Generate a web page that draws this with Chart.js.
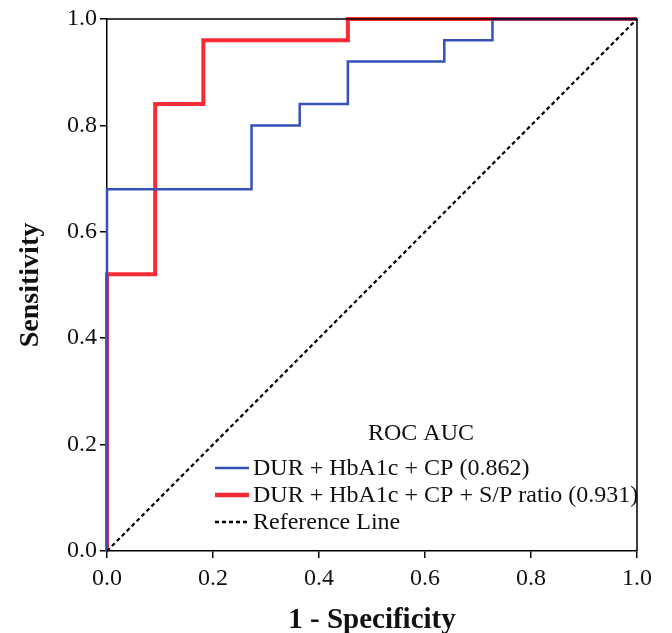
<!DOCTYPE html>
<html>
<head>
<meta charset="utf-8">
<script src="https://cdn.jsdelivr.net/npm/chart.js@4/dist/chart.umd.min.js"></script>
<style>
html,body{margin:0;padding:0;background:#fff;}
#wrap{width:672px;height:633px;}
</style>
</head>
<body>
<div id="wrap"><canvas id="c" width="672" height="633"></canvas></div>
<script>
// ROC curve step points (1 - Specificity, Sensitivity)
const blueX = [0, 0, 0.2727, 0.2727, 0.3636, 0.3636, 0.4545, 0.4545, 0.6364, 0.6364, 0.7273, 0.7273, 1];
const blueY = [0, 0.68, 0.68, 0.80, 0.80, 0.84, 0.84, 0.92, 0.92, 0.96, 0.96, 1.0, 1.0];
const redX = [0, 0, 0.0909, 0.0909, 0.1818, 0.1818, 0.4545, 0.4545, 1];
const redY = [0, 0.52, 0.52, 0.84, 0.84, 0.96, 0.96, 1.0, 1.0];
const refX = [0, 1];
const refY = [0, 1];
const seriesLabels = ['DUR + HbA1c + CP (0.862)', 'DUR + HbA1c + CP + S/P ratio (0.931)', 'Reference Line'];
const legendTitle = 'ROC AUC';
const tickValues = [0, 0.2, 0.4, 0.6, 0.8, 1.0];

const pts = (xs, ys) => xs.map((x, i) => ({x: x, y: ys[i]}));
const FONT = "'Liberation Serif', 'Times New Roman', serif";

const frame = {
  id: 'frame',
  afterDatasetsDraw(chart) {
    const {ctx, chartArea: a} = chart;
    ctx.save();
    ctx.strokeStyle = '#000';
    ctx.lineWidth = 1.5;
    ctx.beginPath();
    ctx.moveTo(a.left, a.top);
    ctx.lineTo(a.right, a.top);
    ctx.lineTo(a.right, a.bottom);
    ctx.stroke();
    ctx.restore();
  },
  afterDraw(chart) {
    const {ctx} = chart;
    const ds = chart.data.datasets;
    ctx.save();
    ctx.fillStyle = '#111';
    ctx.textBaseline = 'middle';
    ctx.textAlign = 'center';
    ctx.font = '24px ' + FONT;
    ctx.fillText(legendTitle, 421, 434);
    ctx.font = '24px ' + FONT;
    ctx.textAlign = 'left';
    const ys = [468, 495, 522];
    const widths = [2.5, 4.5, 2.5];
    // order in legend: blue, red, reference
    const order = [1, 2, 0];
    order.forEach((di, k) => {
      const d = ds[di];
      ctx.save();
      ctx.strokeStyle = d.borderColor;
      ctx.lineWidth = widths[k];
      ctx.setLineDash(d.borderDash || []);
      ctx.beginPath();
      ctx.moveTo(215, ys[k]);
      ctx.lineTo(249, ys[k]);
      ctx.stroke();
      ctx.restore();
      ctx.fillText(d.label, 253, ys[k] + 1);
    });
    ctx.restore();
  }
};

new Chart(document.getElementById('c'), {
  type: 'scatter',
  data: {
    datasets: [
      {label: seriesLabels[2], data: pts(refX, refY), showLine: true, borderColor: '#000', borderWidth: 2.2, borderDash: [4, 3], pointRadius: 0, clip: false},
      {label: seriesLabels[0], data: pts(blueX, blueY), showLine: true, borderColor: '#3552b8', borderWidth: 2.5, pointRadius: 0, clip: false},
      {label: seriesLabels[1], data: pts(redX, redY), showLine: true, borderColor: '#f72a36', borderWidth: 4, pointRadius: 0, clip: false}
    ]
  },
  options: {
    responsive: false,
    animation: false,
    layout: {padding: {left: 14, top: 19, right: 35, bottom: 0}},
    plugins: {legend: {display: false}, tooltip: {enabled: false}},
    scales: {
      x: {
        type: 'linear', min: 0, max: 1,
        afterBuildTicks: s => { s.ticks = tickValues.map(v => ({value: v})); },
        afterFit: s => { s.height = 82; },
        border: {color: '#000', width: 1.5},
        grid: {drawOnChartArea: false, color: '#000', lineWidth: 1.5, tickLength: 7},
        ticks: {color: '#111', font: {family: FONT, size: 24}, padding: 6, maxRotation: 0, callback: v => Number(v).toFixed(1)},
        title: {display: true, text: '1 - Specificity', color: '#111', font: {family: FONT, size: 29, weight: 'bold', lineHeight: 0.85}, padding: 0}
      },
      y: {
        type: 'linear', min: 0, max: 1,
        afterBuildTicks: s => { s.ticks = tickValues.map(v => ({value: v})); },
        afterFit: s => { s.width = 93; },
        border: {color: '#000', width: 1.5},
        grid: {drawOnChartArea: false, color: '#000', lineWidth: 1.5, tickLength: 7},
        ticks: {color: '#111', font: {family: FONT, size: 24}, padding: 3, callback: v => Number(v).toFixed(1)},
        title: {display: true, text: 'Sensitivity', color: '#111', font: {family: FONT, size: 28, weight: 'bold'}, padding: 0}
      }
    }
  },
  plugins: [frame]
});
</script>
</body>
</html>
